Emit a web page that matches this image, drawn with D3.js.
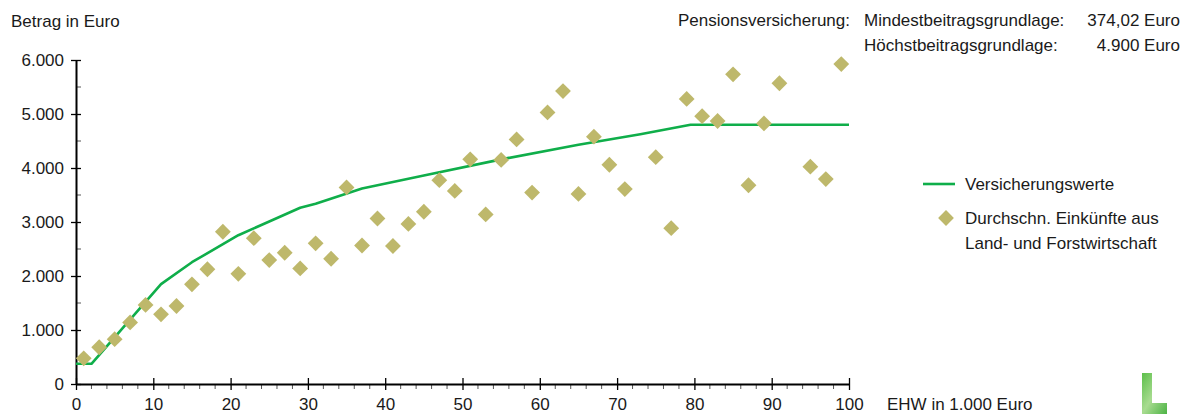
<!DOCTYPE html>
<html>
<head>
<meta charset="utf-8">
<script src="https://cdn.jsdelivr.net/npm/d3@7"></script>
<style>
  body { margin: 0; background: #fff; }
  text { font-family: "Liberation Sans", Arial, sans-serif; fill: #1a1a1a; }
</style>
</head>
<body>
<div id="chart"></div>
<script>
const width = 1188, height = 414;
const FS = "17px";

// Versicherungswerte (line), EHW in 1.000 Euro -> Euro
const lineEhw = [0, 2, 11, 15, 21, 25, 29, 31, 37, 45, 55, 65, 73, 79.5, 100];
const lineValues = [374, 374, 1850, 2255, 2755, 3010, 3265, 3340, 3620, 3860, 4160, 4430, 4625, 4800, 4800];

// Durchschn. Einkuenfte aus Land- und Forstwirtschaft (points)
const pointEhw = [1, 3, 5, 7, 9, 11, 13, 15, 17, 19, 21, 23, 25, 27, 29, 31, 33, 35, 37, 39,
  41, 43, 45, 47, 49, 51, 53, 55, 57, 59, 61, 63, 65, 67, 69, 71, 75, 77, 79, 81,
  83, 85, 87, 89, 91, 95, 97, 99];
const pointValues = [475, 680, 830, 1140, 1465, 1290, 1445, 1845, 2125, 2820, 2040, 2700, 2295, 2430, 2140, 2605, 2320, 3640, 2565, 3065,
  2555, 2965, 3190, 3775, 3575, 4160, 3140, 4150, 4530, 3545, 5030, 5425, 3520, 4580, 4060, 3610, 4200, 2885, 5280, 4960,
  4870, 5735, 3680, 4825, 5570, 4025, 3795, 5925];

const yTicks = [0, 1000, 2000, 3000, 4000, 5000, 6000];
const xTicks = [0, 10, 20, 30, 40, 50, 60, 70, 80, 90, 100];

const de = d3.formatLocale({decimal: ",", thousands: ".", grouping: [3], currency: ["", " €"]});
const fmt = de.format(",d");

const svg = d3.select("#chart").append("svg")
    .attr("width", width)
    .attr("height", height);

let x = d3.scaleLinear().domain([0, 100]).range([76, 849]);
let y = d3.scaleLinear().domain([0, 6000]).range([384, 60]);

const lineColor = "#0fae4a";
const dotColor = "#beb86b";

// minor ticks
svg.append("g").selectAll("line")
    .data(d3.range(0, 101, 2).filter(d => d % 10 !== 0))
    .join("line")
    .attr("x1", d => x(d)).attr("x2", d => x(d))
    .attr("y1", y(0)).attr("y2", y(0) + 5)
    .attr("stroke", "#555").attr("stroke-width", 1);

svg.append("g").selectAll("line")
    .data(d3.range(500, 6000, 1000))
    .join("line")
    .attr("x1", x(0)).attr("x2", x(0) + 5)
    .attr("y1", d => y(d)).attr("y2", d => y(d))
    .attr("stroke", "#555").attr("stroke-width", 1);

// x axis
let xAxis = svg.append("g")
    .attr("transform", `translate(0, ${y(0)})`)
    .call(d3.axisBottom(x).tickValues(xTicks).tickSize(6).tickSizeOuter(0).tickFormat(d3.format("d")));
xAxis.select(".domain").attr("stroke", "#000").attr("stroke-width", 2);
xAxis.selectAll(".tick line").attr("y1", -6).attr("stroke", "#000").attr("stroke-width", 1.3);
xAxis.selectAll(".tick text").attr("y", 26).attr("dy", 0)
    .style("font-size", FS).style("font-family", "Liberation Sans, Arial, sans-serif").attr("fill", "#1a1a1a");

// y axis
let yAxis = svg.append("g")
    .attr("transform", `translate(${x(0)}, 0)`)
    .call(d3.axisLeft(y).tickValues(yTicks).tickSize(5).tickSizeOuter(0).tickFormat(fmt));
yAxis.select(".domain").attr("stroke", "#000").attr("stroke-width", 2);
yAxis.selectAll(".tick line").attr("x1", 5).attr("stroke", "#000").attr("stroke-width", 1.3);
yAxis.selectAll(".tick text").attr("x", -12).attr("dy", "0.34em")
    .style("font-size", FS).style("font-family", "Liberation Sans, Arial, sans-serif").attr("fill", "#1a1a1a");

// line
const lineData = lineEhw.map((d, i) => [d, lineValues[i]]);
svg.append("path")
    .datum(lineData)
    .attr("fill", "none")
    .attr("stroke", lineColor)
    .attr("stroke-width", 2.6)
    .attr("stroke-linejoin", "round")
    .attr("d", d3.line().x(d => x(d[0])).y(d => y(d[1])));

// diamonds
const diamond = d3.symbol().type(d3.symbolSquare).size(125);
svg.append("g").selectAll("path")
    .data(pointEhw.map((d, i) => [d, pointValues[i]]))
    .join("path")
    .attr("d", diamond)
    .attr("transform", d => `translate(${x(d[0])}, ${y(d[1])}) rotate(45)`)
    .attr("fill", dotColor);

// labels
svg.append("text").attr("x", 11).attr("y", 27).style("font-size", FS).text("Betrag in Euro");
svg.append("text").attr("x", 887).attr("y", 410).style("font-size", FS).text("EHW in 1.000 Euro");

svg.append("text").attr("x", 678).attr("y", 26).style("font-size", FS).text("Pensionsversicherung:");
svg.append("text").attr("x", 864).attr("y", 26).style("font-size", FS).text("Mindestbeitragsgrundlage:");
svg.append("text").attr("x", 1180).attr("y", 26).attr("text-anchor", "end").style("font-size", FS).text("374,02 Euro");
svg.append("text").attr("x", 864).attr("y", 51).style("font-size", FS).text("Höchstbeitragsgrundlage:");
svg.append("text").attr("x", 1180).attr("y", 51).attr("text-anchor", "end").style("font-size", FS).text("4.900 Euro");

// legend
let legend = svg.append("g");
legend.append("line").attr("x1", 923).attr("x2", 955).attr("y1", 184).attr("y2", 184)
    .attr("stroke", lineColor).attr("stroke-width", 2.6);
legend.append("text").attr("x", 965).attr("y", 190).style("font-size", FS).text("Versicherungswerte");
legend.append("path").attr("d", diamond).attr("transform", "translate(946, 218) rotate(45)").attr("fill", dotColor);
legend.append("text").attr("x", 965).attr("y", 224).style("font-size", FS).text("Durchschn. Einkünfte aus");
legend.append("text").attr("x", 965).attr("y", 249).style("font-size", FS).text("Land- und Forstwirtschaft");

// logo fragment bottom right
let grad = svg.append("defs").append("linearGradient").attr("id", "logoGrad")
    .attr("x1", "0").attr("y1", "0").attr("x2", "1").attr("y2", "1");
grad.append("stop").attr("offset", "0%").attr("stop-color", "#5cbf4a");
grad.append("stop").attr("offset", "50%").attr("stop-color", "#a8dc90");
grad.append("stop").attr("offset", "100%").attr("stop-color", "#4db345");
svg.append("path")
    .attr("d", "M1142,373 L1152,373 L1152,403 L1167,403 L1167,414 L1142,414 Z")
    .attr("fill", "url(#logoGrad)");
</script>
</body>
</html>
